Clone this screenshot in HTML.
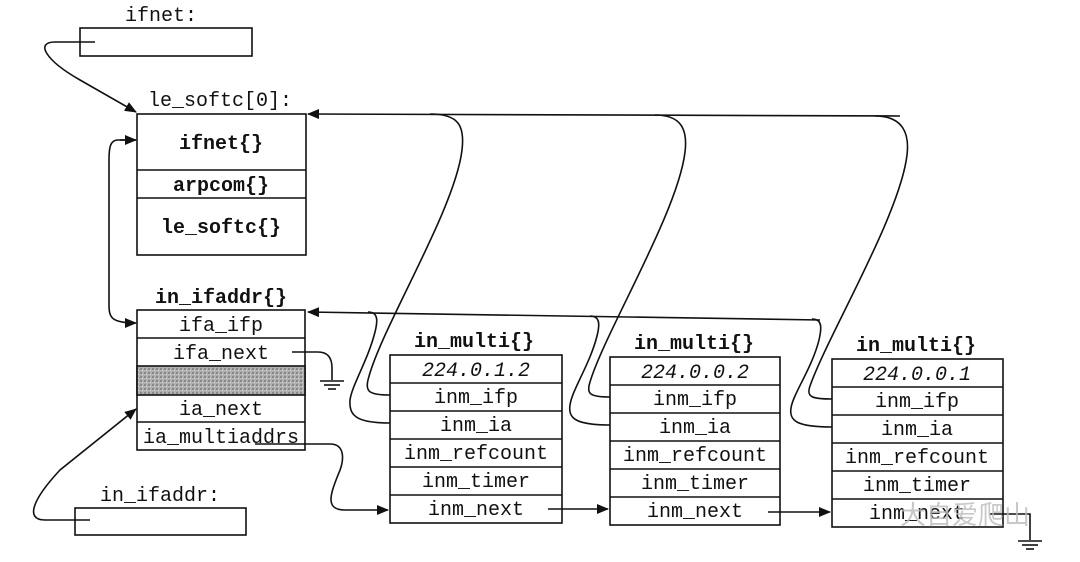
<!DOCTYPE html>
<html><head><meta charset="utf-8"><style>
html,body{margin:0;padding:0;background:#fff;}
svg{display:block;}
text{font-family:"Liberation Mono",monospace;font-size:20px;fill:#111;}
.b{font-weight:bold;font-size:20px;}
.i{font-style:italic;}
</style></head><body>
<svg width="1080" height="562" viewBox="0 0 1080 562" xmlns="http://www.w3.org/2000/svg">
<defs>
<marker id="a" markerWidth="12" markerHeight="10" refX="11" refY="5" orient="auto" markerUnits="userSpaceOnUse">
<path d="M0,0 L12,5 L0,10 Z" fill="#111"/></marker>
<pattern id="g" width="4" height="4" patternUnits="userSpaceOnUse">
<rect width="4" height="4" fill="#b0b0b0"/><rect x="0" y="0" width="2" height="2" fill="#8a8a8a"/><rect x="2" y="2" width="1" height="1" fill="#ddd"/></pattern>
</defs>
<g fill="none" stroke="#111" stroke-width="1.6">
<!-- ifnet box -->
<rect x="80" y="28" width="172" height="28"/>
<path d="M95,42 L55,42 C35,42 45,60 80,80 L136,112" marker-end="url(#a)"/>
<!-- le_softc -->
<rect x="137" y="114" width="169" height="141"/>
<line x1="137" y1="170" x2="306" y2="170"/><line x1="137" y1="198" x2="306" y2="198"/>
<!-- double arrow left -->
<path d="M136,140 L118,140 C110,140 109,148 109,160 L109,305 C109,318 112,323 136,323" marker-end="url(#a)"/>
<path d="M120,140 L136,140" marker-end="url(#a)"/>
<!-- in_ifaddr box -->
<rect x="137" y="310" width="168" height="140"/>
<rect x="137" y="366" width="168" height="29" fill="url(#g)"/>
<line x1="137" y1="338" x2="305" y2="338"/><line x1="137" y1="422" x2="305" y2="422"/>
<!-- ifa_next ground -->
<path d="M292,352 L318,352 C328,352 332,358 332,368 L332,380"/>
<line x1="320" y1="381" x2="344" y2="381"/><line x1="324" y1="385" x2="340" y2="385"/><line x1="328" y1="389" x2="336" y2="389"/>
<!-- in_ifaddr var -->
<rect x="75" y="508" width="171" height="27"/>
<path d="M90,520 L45,520 C25,520 32,500 60,470 L136,409" marker-end="url(#a)"/>
<!-- ia_multiaddrs -->
<path d="M255,444 L330,444 C345,444 345,460 338,475 C330,495 325,510 345,510 L388,510" marker-end="url(#a)"/>
<!-- in_multi boxes -->
<rect x="390" y="355" width="172" height="168"/>
<line x1="390" y1="383" x2="562" y2="383"/><line x1="390" y1="411" x2="562" y2="411"/><line x1="390" y1="439" x2="562" y2="439"/><line x1="390" y1="467" x2="562" y2="467"/><line x1="390" y1="495" x2="562" y2="495"/>
<rect x="610" y="357" width="170" height="168"/>
<line x1="610" y1="385" x2="780" y2="385"/><line x1="610" y1="413" x2="780" y2="413"/><line x1="610" y1="441" x2="780" y2="441"/><line x1="610" y1="469" x2="780" y2="469"/><line x1="610" y1="497" x2="780" y2="497"/>
<rect x="832" y="359" width="171" height="168"/>
<line x1="832" y1="387" x2="1003" y2="387"/><line x1="832" y1="415" x2="1003" y2="415"/><line x1="832" y1="443" x2="1003" y2="443"/><line x1="832" y1="471" x2="1003" y2="471"/><line x1="832" y1="499" x2="1003" y2="499"/>
<!-- inm_next arrows -->
<path d="M548,509 L608,509" marker-end="url(#a)"/>
<path d="M768,512 L830,512" marker-end="url(#a)"/>
<path d="M990,514 L1030,514 L1030,540"/>
<line x1="1018" y1="541" x2="1042" y2="541"/><line x1="1022" y1="545" x2="1038" y2="545"/><line x1="1026" y1="549" x2="1034" y2="549"/>
<!-- top line to le_softc -->
<path d="M900,116 L308,114" marker-end="url(#a)"/>
<path d="M430,114 C458,114 465,125 462,150 C455,210 380,330 368,380 C365,392 370,395 390,395"/>
<path d="M655,115 C680,115 688,128 685,152 C678,212 605,332 590,382 C586,394 590,397 610,397"/>
<path d="M875,116 C900,116 910,130 907,155 C900,215 828,335 810,386 C806,397 812,399 832,399"/>
<!-- second line to in_ifaddr -->
<path d="M820,320 L308,312" marker-end="url(#a)"/>
<path d="M368,312 C378,312 378,320 375,332 C368,360 352,385 350,400 C349,415 355,423 390,423"/>
<path d="M590,316 C600,316 600,324 597,336 C590,364 572,390 570,405 C568,418 575,425 610,425"/>
<path d="M812,319 C822,319 822,327 819,340 C812,368 793,394 791,408 C789,421 797,427 832,427"/>
</g>
<!-- gaps where lines cross -->
<g fill="none" stroke="#fff" stroke-width="0"></g>
<text x="125" y="21">ifnet:</text>
<text x="148" y="106">le_softc[0]:</text>
<text class="b" x="221" y="149" text-anchor="middle">ifnet{}</text>
<text class="b" x="221" y="191" text-anchor="middle">arpcom{}</text>
<text class="b" x="221" y="233" text-anchor="middle">le_softc{}</text>
<text class="b" x="221" y="303" text-anchor="middle">in_ifaddr{}</text>
<text x="221" y="331" text-anchor="middle">ifa_ifp</text>
<text x="221" y="359" text-anchor="middle">ifa_next</text>
<text x="221" y="415" text-anchor="middle">ia_next</text>
<text x="221" y="443" text-anchor="middle">ia_multiaddrs</text>
<text x="100" y="501">in_ifaddr:</text>
<g text-anchor="middle">
<text class="b" x="474" y="347">in_multi{}</text>
<text class="i" x="476" y="376">224.0.1.2</text>
<text x="476" y="403">inm_ifp</text>
<text x="476" y="431">inm_ia</text>
<text x="476" y="459">inm_refcount</text>
<text x="476" y="487">inm_timer</text>
<text x="476" y="515">inm_next</text>
<text class="b" x="694" y="349">in_multi{}</text>
<text class="i" x="695" y="378">224.0.0.2</text>
<text x="695" y="405">inm_ifp</text>
<text x="695" y="433">inm_ia</text>
<text x="695" y="461">inm_refcount</text>
<text x="695" y="489">inm_timer</text>
<text x="695" y="517">inm_next</text>
<text class="b" x="916" y="351">in_multi{}</text>
<text class="i" x="917" y="380">224.0.0.1</text>
<text x="917" y="407">inm_ifp</text>
<text x="917" y="435">inm_ia</text>
<text x="917" y="463">inm_refcount</text>
<text x="917" y="491">inm_timer</text>
<text x="917" y="519">inm_next</text>
</g>
<text x="900" y="524" style="font-family:'Liberation Sans','Noto Sans CJK SC',sans-serif;font-size:26px;fill:#bbb;opacity:0.8">大自爱爬山</text>
</svg>
</body></html>
